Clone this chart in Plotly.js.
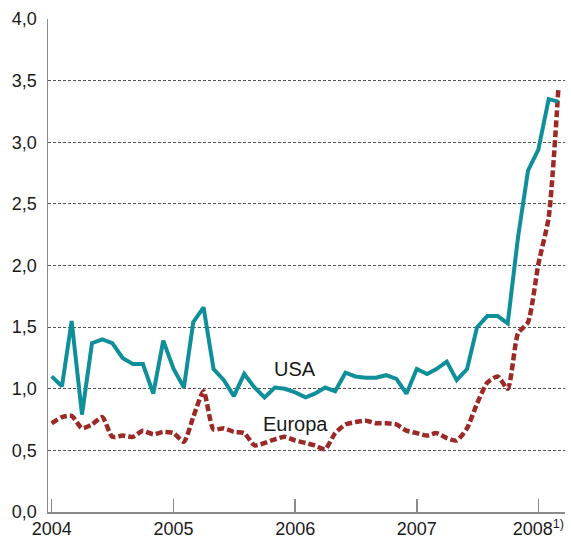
<!DOCTYPE html>
<html>
<head>
<meta charset="utf-8">
<script src="https://cdn.plot.ly/plotly-3.0.1.min.js"></script>
<style>
html, body { margin: 0; padding: 0; background: #fff; }
#chart { width: 571px; height: 539px; }
</style>
</head>
<body>
<div id="chart"></div>
<script>
// Monthly observations, January 2004 - March 2008
const months = [
  '2004-01','2004-02','2004-03','2004-04','2004-05','2004-06','2004-07','2004-08','2004-09','2004-10','2004-11','2004-12',
  '2005-01','2005-02','2005-03','2005-04','2005-05','2005-06','2005-07','2005-08','2005-09','2005-10','2005-11','2005-12',
  '2006-01','2006-02','2006-03','2006-04','2006-05','2006-06','2006-07','2006-08','2006-09','2006-10','2006-11','2006-12',
  '2007-01','2007-02','2007-03','2007-04','2007-05','2007-06','2007-07','2007-08','2007-09','2007-10','2007-11','2007-12',
  '2008-01','2008-02','2008-03'
];

const usa = [
  1.10, 1.02, 1.55, 0.79, 1.37, 1.40, 1.37, 1.25, 1.20, 1.20, 0.96, 1.39,
  1.16, 1.01, 1.54, 1.66, 1.16, 1.07, 0.94, 1.12, 1.01, 0.93, 1.01, 1.00,
  0.97, 0.93, 0.96, 1.01, 0.98, 1.13, 1.10, 1.09, 1.09, 1.11, 1.08, 0.96,
  1.16, 1.12, 1.16, 1.22, 1.07, 1.16, 1.50, 1.59, 1.59, 1.53, 2.23, 2.77,
  2.94, 3.35, 3.33
];

const europa = [
  0.72, 0.77, 0.78, 0.68, 0.71, 0.77, 0.61, 0.62, 0.61, 0.66, 0.63, 0.65,
  0.64, 0.57, 0.77, 0.98, 0.67, 0.68, 0.65, 0.64, 0.54, 0.56, 0.59, 0.61,
  0.58, 0.56, 0.54, 0.51, 0.64, 0.71, 0.73, 0.74, 0.72, 0.72, 0.71, 0.66,
  0.64, 0.62, 0.64, 0.60, 0.58, 0.68, 0.88, 1.05, 1.10, 1.00, 1.45, 1.54,
  2.01, 2.39, 3.43
];

const yTicks = [0, 0.5, 1, 1.5, 2, 2.5, 3, 3.5, 4];
const xTickVals = ['2004-01-01', '2005-01-01', '2006-01-01', '2007-01-01', '2008-01-01'];
const xTickText = ['2004', '2005', '2006', '2007', '2008<sup>1)</sup>'];
const seriesLabels = ['USA', 'Europa'];

const traces = [
  {
    x: months, y: europa, type: 'scatter', mode: 'lines', name: seriesLabels[1],
    line: { color: '#9b2a26', width: 4.5, dash: '7px,3px', shape: 'spline', smoothing: 0.6 },
    hoverinfo: 'skip'
  },
  {
    x: months, y: usa, type: 'scatter', mode: 'lines', name: seriesLabels[0],
    line: { color: '#0f8f99', width: 4 },
    hoverinfo: 'skip'
  }
];

const layout = {
  width: 571, height: 539,
  margin: { l: 48, r: 6, t: 19, b: 27, pad: 0 },
  paper_bgcolor: '#ffffff', plot_bgcolor: '#ffffff',
  showlegend: false,
  separators: ',.',
  font: { family: 'Liberation Sans, Arial, sans-serif', size: 18, color: '#1a1a1a' },
  xaxis: {
    type: 'date',
    range: ['2003-12-21', '2008-03-21'],
    tickmode: 'array', tickvals: xTickVals, ticktext: xTickText,
    ticks: 'inside', ticklen: 13, tickwidth: 1.5, tickcolor: '#8a8a8a',
    showgrid: false, zeroline: false,
    showline: true, linecolor: '#8a8a8a', linewidth: 1.5,
    tickfont: { size: 18, family: 'Liberation Sans, Arial, sans-serif', color: '#1a1a1a' },
    fixedrange: true
  },
  yaxis: {
    range: [0, 4],
    tickmode: 'array', tickvals: yTicks, tickformat: '.1f',
    ticks: '', showgrid: true, gridcolor: '#555555', gridwidth: 1, griddash: '3px,2px',
    zeroline: false,
    showline: true, linecolor: '#8a8a8a', linewidth: 1.5,
    tickfont: { size: 18, family: 'Liberation Sans, Arial, sans-serif', color: '#1a1a1a' },
    ticklabelstandoff: 6,
    fixedrange: true
  },
  annotations: [
    { x: '2006-01-01', y: 1.16, xref: 'x', yref: 'y', text: seriesLabels[0], showarrow: false,
      font: { size: 20, color: '#1a1a1a' }, xanchor: 'center', yanchor: 'middle' },
    { x: '2006-01-01', y: 0.715, xref: 'x', yref: 'y', text: seriesLabels[1], showarrow: false,
      font: { size: 20, color: '#1a1a1a' }, xanchor: 'center', yanchor: 'middle' }
  ]
};

Plotly.newPlot('chart', traces, layout, { displayModeBar: false, staticPlot: true });
</script>
</body>
</html>
